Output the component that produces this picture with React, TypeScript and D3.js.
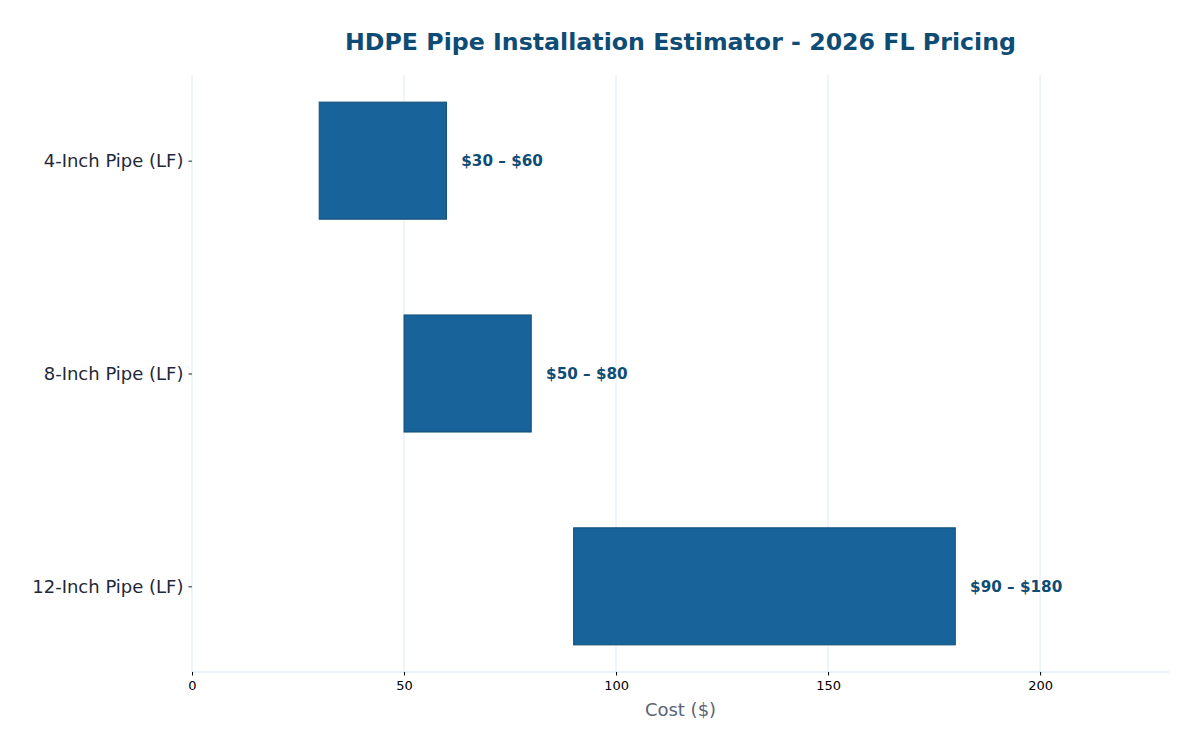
import React, { useRef, useEffect } from "react";
import * as d3 from "d3";

const categories = ["4-Inch Pipe (LF)", "8-Inch Pipe (LF)", "12-Inch Pipe (LF)"];
const lowCosts = [30, 50, 90];
const highCosts = [60, 80, 180];
const xTicks = [0, 50, 100, 150, 200];

function App() {
  const svgRef = useRef<SVGSVGElement | null>(null);

  useEffect(() => {
    const width = 1200;
    const height = 750;
    const margin = { top: 75, right: 31, bottom: 78, left: 192 };
    const font = "DejaVu Sans, sans-serif";

    const svg = d3.select(svgRef.current).attr("width", width).attr("height", height);
    svg.selectAll("*").remove();

    // x domain with matplotlib-style margin
    const x = d3.scaleLinear()
      .domain([0, d3.max(highCosts)! * 1.28])
      .range([margin.left, width - margin.right]);

    // y: bar index, inverted, bar height 0.55 with 5% margins
    const barH = 0.55;
    const n = categories.length;
    const span = (n - 1) + barH;
    const y = d3.scaleLinear()
      .domain([-barH / 2 - span * 0.05, n - 1 + barH / 2 + span * 0.05])
      .range([margin.top, height - margin.bottom]);

    // GRID
    svg.append("g")
      .selectAll("line")
      .data(xTicks)
      .enter()
      .append("line")
      .attr("x1", d => x(d)).attr("x2", d => x(d))
      .attr("y1", margin.top).attr("y2", height - margin.bottom)
      .attr("stroke", "#d5e5f3")
      .attr("stroke-width", 0.8);

    // BARS
    svg.append("g")
      .selectAll("rect")
      .data(categories)
      .enter()
      .append("rect")
      .attr("x", (d, i) => x(lowCosts[i]))
      .attr("y", (d, i) => y(i - barH / 2))
      .attr("width", (d, i) => x(highCosts[i]) - x(lowCosts[i]))
      .attr("height", y(barH) - y(0))
      .attr("fill", "#18649a")
      .attr("stroke", "#0f4c75")
      .attr("stroke-width", 1);

    // VALUE LABELS
    svg.append("g")
      .selectAll("text")
      .data(categories)
      .enter()
      .append("text")
      .attr("x", (d, i) => x(highCosts[i] + 3.5))
      .attr("y", (d, i) => y(i))
      .attr("dy", "0.35em")
      .attr("font-family", font)
      .attr("font-size", 15.2)
      .attr("font-weight", "bold")
      .attr("fill", "#0f4c75")
      .text((d, i) => `$${lowCosts[i]} – $${highCosts[i]}`);

    // BOTTOM SPINE
    svg.append("line")
      .attr("x1", margin.left).attr("x2", width - margin.right)
      .attr("y1", height - margin.bottom).attr("y2", height - margin.bottom)
      .attr("stroke", "#d5e5f3")
      .attr("stroke-width", 1);

    // X AXIS
    const xAxis = svg.append("g")
      .attr("transform", `translate(0, ${height - margin.bottom})`)
      .call(d3.axisBottom(x).tickValues(xTicks).tickSize(3.5).tickPadding(5));
    xAxis.select(".domain").remove();
    xAxis.selectAll("text").attr("font-family", font).attr("font-size", 13).attr("fill", "#000");
    xAxis.selectAll("line").attr("stroke", "#000");

    // Y AXIS
    const yAxis = svg.append("g")
      .attr("transform", `translate(${margin.left}, 0)`)
      .call(d3.axisLeft(y).tickValues(d3.range(n)).tickFormat((d) => categories[+d]).tickSize(3.5).tickPadding(5));
    yAxis.select(".domain").remove();
    yAxis.selectAll("text").attr("font-family", font).attr("font-size", 18).attr("fill", "#1f2937");
    yAxis.selectAll("line").attr("stroke", "#1f2937");

    // AXIS LABEL
    svg.append("text")
      .attr("x", (margin.left + width - margin.right) / 2)
      .attr("y", 716)
      .attr("text-anchor", "middle")
      .attr("font-family", font)
      .attr("font-size", 18)
      .attr("fill", "#5b6472")
      .text("Cost ($)");

    // TITLE
    svg.append("text")
      .attr("x", (margin.left + width - margin.right) / 2)
      .attr("y", 50)
      .attr("text-anchor", "middle")
      .attr("font-family", font)
      .attr("font-size", 23.7)
      .attr("font-weight", "bold")
      .attr("fill", "#0f4c75")
      .text("HDPE Pipe Installation Estimator - 2026 FL Pricing");
  }, []);

  return <svg ref={svgRef} style={{ position: "absolute", left: 0, top: 0 }}></svg>;
}

export default App;
